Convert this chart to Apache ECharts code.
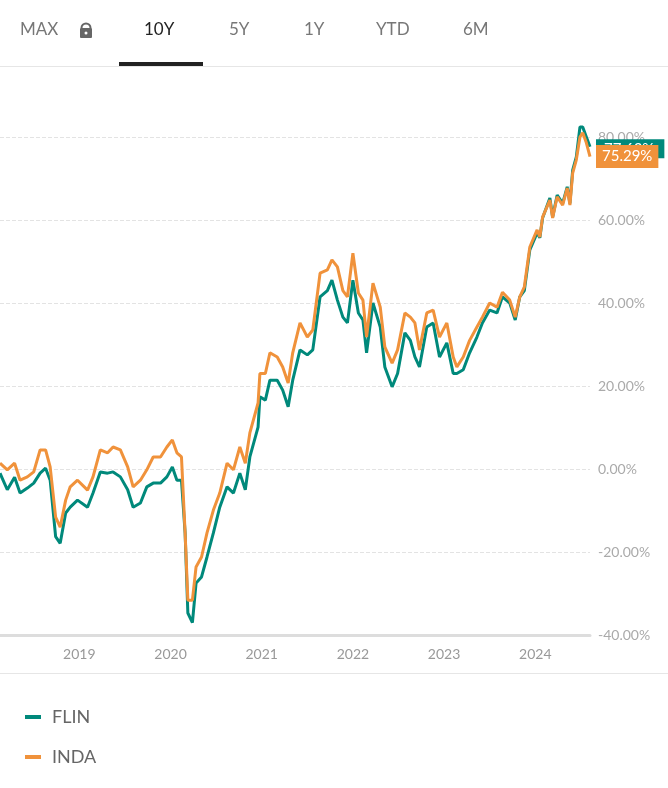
<!DOCTYPE html>
<html>
<head>
<meta charset="utf-8">
<script src="https://cdn.jsdelivr.net/npm/echarts@6/dist/echarts.min.js"></script>
<style>
  html, body { margin: 0; padding: 0; background: #fff; }
  #main { width: 668px; height: 788px; }
</style>
</head>
<body>
<div id="main"></div>
<script>
// time in decimal years, values in % return
var years = [2018.13,2018.21,2018.29,2018.35,2018.43,2018.50,2018.57,2018.63,2018.68,2018.74,2018.79,2018.85,2018.90,2018.98,2019.09,2019.15,2019.23,2019.31,2019.37,2019.45,2019.53,2019.59,2019.67,2019.74,2019.81,2019.89,2019.96,2020.02,2020.07,2020.12,2020.16,2020.19,2020.24,2020.28,2020.34,2020.40,2020.47,2020.54,2020.62,2020.69,2020.76,2020.82,2020.87,2020.96,2020.98,2021.04,2021.09,2021.17,2021.23,2021.29,2021.34,2021.42,2021.50,2021.56,2021.64,2021.72,2021.77,2021.83,2021.89,2021.94,2022.00,2022.06,2022.11,2022.15,2022.22,2022.30,2022.35,2022.43,2022.49,2022.57,2022.63,2022.68,2022.73,2022.81,2022.88,2022.95,2023.03,2023.10,2023.14,2023.21,2023.28,2023.36,2023.42,2023.50,2023.58,2023.64,2023.72,2023.78,2023.83,2023.88,2023.94,2024.02,2024.05,2024.08,2024.16,2024.19,2024.24,2024.30,2024.35,2024.38,2024.41,2024.45,2024.49,2024.52,2024.56,2024.60];
var inda = [1.4,-0.2,1.4,-2.7,-1.9,-0.7,4.6,4.6,0.5,-11.6,-14,-7.5,-4.3,-2.7,-5.1,-1.9,4.6,3.9,5.3,4.6,0.5,-4.3,-2.7,-0.2,2.9,2.9,5.3,7,3.9,2.9,-15.4,-31.6,-31.6,-23.6,-21.2,-15.4,-9.9,-5.8,1.4,-0.2,5.3,1.4,8.7,15.9,23,23,28,27,24.6,20.7,28,35.2,31.8,33.5,47.2,48,50.4,48.7,43,41.5,52,42.4,40.7,31.8,44.8,39,29.4,25.5,28.7,37.6,36.6,35.2,28.7,37.6,38.3,31.8,35.2,27,24.6,27,31,34.2,36.6,40,39,42.6,40.7,36.6,41.5,43.9,53.5,57.6,55.9,60.7,64.8,60.5,65.6,63.6,67.7,63.6,71.3,74.5,80,81,78.6,75.29];
var flin = [-1,-5,-2,-5.8,-4.6,-3.4,-1,0.2,-2.7,-16.3,-17.9,-10.6,-9.2,-7.5,-9.2,-5.8,-0.7,-1,-0.7,-1.9,-5,-9.2,-8.2,-4.3,-3.4,-3.4,-1.9,0.5,-2.7,-2.7,-15.4,-34.7,-37,-27.5,-26,-21.2,-15.4,-9.2,-4.3,-5.8,-1,-5,2.9,10.1,17.4,16.6,21.4,21.4,19,15,21.4,28.7,27.5,28.7,41.5,43,45.5,40.7,36.6,35.2,45.5,37.6,35.9,28,40,34.2,24.6,19.8,23,32.8,31,27,24.6,34.2,35.2,27,30.4,23,23,23.9,28,31.8,35.2,38.3,37.6,41.5,40,35.9,41.5,43,52.8,56.9,55.7,60.5,65.3,60.7,66,64,68,64,72,75.2,82.4,82.4,80,77.63];
var yearTicks = [2019,2020,2021,2022,2023,2024];
var tabs = ['MAX','10Y','5Y','1Y','YTD','6M'];
var tabX = [20,144,229,304,376,463];

function pairs(vals){ return years.map(function(y,i){ return [y, vals[i]]; }); }

var chart = echarts.init(document.getElementById('main'));
var gfx = [];
tabs.forEach(function(t,i){
  gfx.push({type:'text', left:tabX[i], top:21, style:{text:t, fontSize:17, fontFamily:'Lato', fill: t==='10Y' ? '#222' : '#777'}});
});
// lock icon
gfx.push({type:'arc', shape:{cx:86,cy:28,r:4.5,startAngle:Math.PI,endAngle:0}, style:{stroke:'#666',lineWidth:2,fill:null}});
gfx.push({type:'rect', shape:{x:80,y:28,width:12,height:10,r:1}, style:{fill:'#666'}});
gfx.push({type:'circle', shape:{cx:86,cy:33,r:1.5}, style:{fill:'#fff'}});
gfx.push({type:'rect', shape:{x:119,y:62,width:84,height:4}, style:{fill:'#222'}});
gfx.push({type:'rect', shape:{x:0,y:66,width:668,height:1}, style:{fill:'#e6e6e6'}});
gfx.push({type:'rect', shape:{x:0,y:673,width:668,height:1}, style:{fill:'#e6e6e6'}});

chart.setOption({
  animation:false,
  grid:{left:0,right:78,top:137,bottom:153},
  graphic:gfx,
  legend:{
    orient:'vertical', left:20, top:703, itemGap:22, itemWidth:16, itemHeight:4,
    icon:'rect',
    textStyle:{fontSize:18, color:'#666', fontFamily:'Lato', padding:[0,0,0,6]},
    data:['FLIN','INDA']
  },
  xAxis:{
    type:'value', min:2018.13, max:2024.6,
    axisLine:{show:true, onZero:false, lineStyle:{color:'#ddd', width:3}},
    axisTick:{show:false},
    splitLine:{show:false},
    axisLabel:{
      color:'#999', fontSize:14, fontFamily:'Lato', margin:12,
      customValues: yearTicks,
      formatter:function(v){ return String(Math.round(v)); }
    }
  },
  yAxis:{
    type:'value', position:'right', min:-40, max:80, interval:20,
    axisLine:{show:false}, axisTick:{show:false},
    splitLine:{lineStyle:{type:'dashed', color:'#e3e3e3'}},
    axisLabel:{color:'#aaa', fontSize:14, fontFamily:'Lato', margin:8,
      formatter:function(v){ return v.toFixed(2)+'%'; }}
  },
  series:[
    {name:'FLIN', type:'line', data:pairs(flin), showSymbol:false, clip:false,
      lineStyle:{width:3, color:'#00897b'}, itemStyle:{color:'#00897b'},
      endLabel:{show:true, formatter:function(p){return p.value[1].toFixed(2)+'%';},
        backgroundColor:'#00897b', color:'#fff', fontSize:15, fontFamily:'Lato',
        padding:[2,10,2,8], distance:6, offset:[0,2]}},
    {name:'INDA', type:'line', data:pairs(inda), showSymbol:false, clip:false,
      lineStyle:{width:3, color:'#f0923b'}, itemStyle:{color:'#f0923b'},
      endLabel:{show:true, formatter:function(p){return p.value[1].toFixed(2)+'%';},
        backgroundColor:'#f0923b', color:'#fff', fontSize:15, fontFamily:'Lato',
        padding:[4,6,4,6], distance:6}}
  ]
});
</script>
</body>
</html>
